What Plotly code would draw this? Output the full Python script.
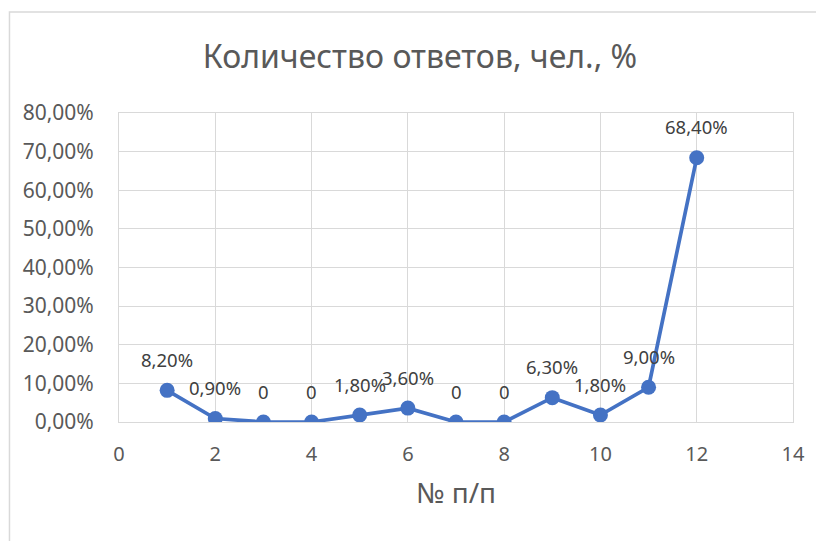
"""
Количество ответов, чел., % — line chart with markers
"""

import plotly.graph_objects as go


# --------------------------------------------------
# Data
# --------------------------------------------------

item_no = [1, 2, 3, 4, 5, 6, 7, 8, 9, 10, 11, 12]
share = [0.082, 0.009, 0.0, 0.0, 0.018, 0.036, 0.0, 0.0, 0.063, 0.018, 0.09, 0.684]
point_labels = ["8,20%", "0,90%", "0", "0", "1,80%", "3,60%",
                "0", "0", "6,30%", "1,80%", "9,00%", "68,40%"]

y_ticks = [0.0, 0.1, 0.2, 0.3, 0.4, 0.5, 0.6, 0.7, 0.8]
y_tick_text = ["0,00%", "10,00%", "20,00%", "30,00%", "40,00%",
               "50,00%", "60,00%", "70,00%", "80,00%"]
x_ticks = [0, 2, 4, 6, 8, 10, 12, 14]

BLUE = "#4472C4"
GRID = "#D9D9D9"
TEXT = "#595959"
FONT = "Noto Sans"


# --------------------------------------------------
# Figure
# --------------------------------------------------

fig = go.Figure()

fig.add_trace(
    go.Scatter(
        x=item_no,
        y=share,
        mode="lines+markers",
        line=dict(color=BLUE, width=3.7),
        marker=dict(color=BLUE, size=15),
        showlegend=False,
        hoverinfo="skip"
    )
)

for xv, yv, lab in zip(item_no, share, point_labels):
    fig.add_annotation(
        x=xv,
        y=yv,
        text=lab,
        showarrow=False,
        yshift=31,
        font=dict(family=FONT, size=18.5, color="#404040")
    )

# outer chart frame
fig.add_shape(
    type="rect",
    xref="paper", yref="paper",
    x0=-0.1625, x1=1.2,
    y0=-0.5, y1=1.3269,
    line=dict(color=GRID, width=1.5),
    fillcolor="rgba(0,0,0,0)",
    layer="below"
)

fig.update_layout(
    width=824,
    height=541,
    margin=dict(l=111, r=39, t=105, b=127),
    paper_bgcolor="white",
    plot_bgcolor="white",
    font=dict(family=FONT, color=TEXT),
    title=dict(
        text="Количество ответов, чел., %",
        x=0.5,
        xanchor="center",
        y=0.909,
        yanchor="middle",
        font=dict(family=FONT, size=32, color=TEXT)
    ),
    xaxis=dict(
        range=[0, 14],
        tickvals=x_ticks,
        showgrid=True,
        gridcolor=GRID,
        gridwidth=1,
        zeroline=False,
        showline=True,
        linecolor=GRID,
        mirror=True,
        ticks="outside",
        ticklen=14,
        tickcolor="rgba(0,0,0,0)",
        tickfont=dict(family=FONT, size=20, color=TEXT),
        title=dict(
            text="№ п/п",
            standoff=17,
            font=dict(family=FONT, size=28, color=TEXT)
        )
    ),
    yaxis=dict(
        range=[0, 0.8],
        tickvals=y_ticks,
        ticktext=y_tick_text,
        showgrid=True,
        gridcolor=GRID,
        gridwidth=1,
        zeroline=False,
        showline=True,
        linecolor=GRID,
        mirror=True,
        ticks="outside",
        ticklen=20,
        tickcolor="rgba(0,0,0,0)",
        tickfont=dict(family=FONT, size=21, color=TEXT)
    )
)

fig.write_html("out.html")
